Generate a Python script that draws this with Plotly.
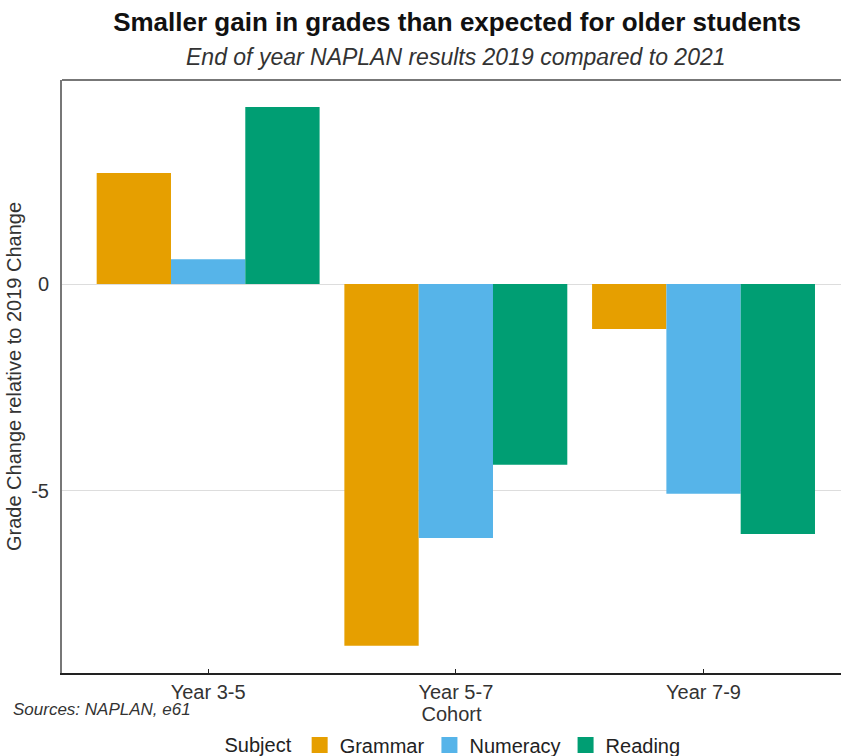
import plotly.graph_objects as go

cohorts = ["Year 3-5", "Year 5-7", "Year 7-9"]
grammar = [2.68, -8.74, -1.09]
numeracy = [0.60, -6.14, -5.07]
reading = [4.28, -4.37, -6.04]

subjects = ["Grammar", "Numeracy", "Reading"]
colors = {"Grammar": "#E69F00", "Numeracy": "#56B4E9", "Reading": "#009E73"}
values = {"Grammar": grammar, "Numeracy": numeracy, "Reading": reading}

FONT = "Liberation Sans, Arial, sans-serif"
TXT = "#333333"

fig = go.Figure()
for s in subjects:
    fig.add_trace(go.Bar(
        x=cohorts, y=values[s], name=s, showlegend=False,
        marker=dict(color=colors[s], line=dict(width=0)),
    ))
# square legend keys
for s in subjects:
    fig.add_trace(go.Scatter(
        x=[None], y=[None], name=s, mode="markers",
        marker=dict(symbol="square", size=17, color=colors[s]),
    ))

W, H = 841, 756
L, R, T, B = 62, 0, 80, 83
pw, ph = W - L - R, H - T - B

def px_x(x):
    return (x - L) / pw

def px_y(y):
    return (H - B - y) / ph

fig.update_layout(
    width=W, height=H,
    margin=dict(l=L, r=R, t=T, b=B, autoexpand=False),
    barmode="group", bargap=0.1, bargroupgap=0,
    plot_bgcolor="white", paper_bgcolor="white",
    font=dict(family=FONT, color=TXT, size=20),
    title=dict(
        text="<b>Smaller gain in grades than expected for older students</b>",
        x=457 / W, xanchor="center", y=1 - 22 / H, yanchor="middle",
        font=dict(size=26, color="#111111", family=FONT),
    ),
    showlegend=True,
    legend=dict(
        orientation="h", x=px_x(454), xanchor="center",
        y=px_y(745), yanchor="middle",
        title=dict(text="Subject", side="left", font=dict(size=20, color="#222222")),
        font=dict(size=20, color="#222222"),
        traceorder="normal", itemwidth=30, tracegroupgap=0,
        bgcolor="rgba(0,0,0,0)",
    ),
    annotations=[
        dict(text="<i>End of year NAPLAN results 2019 compared to 2021</i>",
             xref="paper", yref="paper", x=px_x(456), y=px_y(57),
             xanchor="center", yanchor="middle", showarrow=False,
             font=dict(size=23, color=TXT, family=FONT)),
        dict(text="<i>Sources: NAPLAN, e61</i>",
             xref="paper", yref="paper", x=px_x(11), y=px_y(709),
             xanchor="left", yanchor="middle", showarrow=False,
             font=dict(size=17, color=TXT, family=FONT)),
    ],
)

fig.update_xaxes(
    range=[-0.59, 2.555], automargin=False,
    showline=True, linecolor="#222222", linewidth=2,
    mirror=False,
    ticks="inside", ticklen=4, tickcolor="#222222", tickwidth=1,
    showgrid=False,
    tickfont=dict(size=20, color=TXT),
    title=dict(text="Cohort", standoff=3, font=dict(size=20, color=TXT)),
)

fig.update_yaxes(
    range=[-9.40, 4.93], automargin=False,
    tickvals=[0, -5], ticktext=["0", "-5"],
    showline=True, linecolor="#777777", linewidth=2,
    showgrid=True, gridcolor="#dddddd", gridwidth=1,
    zeroline=False, ticks="",
    ticklabelstandoff=7,
    tickfont=dict(size=20, color=TXT),
    title=dict(text="Grade Change relative to 2019 Change", standoff=4,
               font=dict(size=20, color=TXT)),
)

# grey frame line along the top of the panel
fig.add_shape(type="line", xref="paper", yref="paper", x0=0, x1=1, y0=1, y1=1,
              line=dict(color="#777777", width=2))

fig.write_html("out.html")
